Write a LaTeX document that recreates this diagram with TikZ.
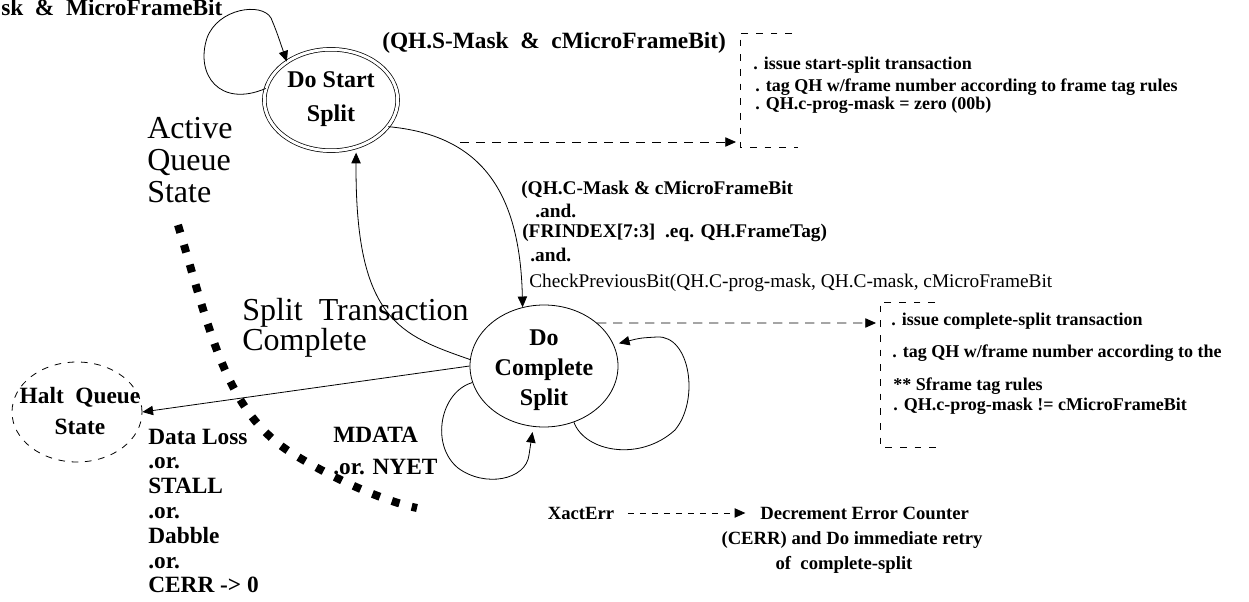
\documentclass[tikz,border=0pt]{standalone}
\usepackage{fontspec}
\setmainfont{Liberation Serif}
\usetikzlibrary{arrows.meta,shapes.geometric}
\begin{document}
\begin{tikzpicture}[x=0.75pt,y=-0.75pt,
  arr/.style={-{Triangle[length=8pt,width=7pt]}, line width=0.6pt},
  darr/.style={arr, dash pattern=on 7pt off 5pt},
  xarr/.style={arr, dash pattern=on 4.5pt off 4.5pt},
  boxline/.style={line width=0.65pt, dash pattern=on 5pt off 6pt},
  nm/.style={font=\bfseries\fontsize{18}{23}\selectfont, align=center, inner sep=0pt},
  lb/.style={font=\bfseries\fontsize{17.5}{19}\selectfont, anchor=west, inner sep=0pt},
  cd/.style={font=\bfseries\fontsize{14.5}{17}\selectfont, anchor=west, inner sep=0pt},
  cdr/.style={font=\fontsize{14.5}{17}\selectfont, anchor=west, inner sep=0pt},
  bx/.style={font=\bfseries\fontsize{13.5}{16}\selectfont, anchor=west, inner sep=0pt},
  bigtxt/.style={font=\fontsize{24}{24}\selectfont, anchor=west, inner sep=0pt, align=left},
  dec/.style={font=\bfseries\fontsize{14}{17}\selectfont, inner sep=0pt},
]
\useasboundingbox (0,0) rectangle (1249,602);

% states
\node[ellipse, draw, double, double distance=2.2pt, line width=0.55pt,
      minimum width=100pt, minimum height=76pt, inner sep=0pt] (start) at (331,100) {};
\node[nm, font=\bfseries\fontsize{18}{25}\selectfont] (starttext) at (331,99) {Do Start\\Split};

\node[ellipse, draw, line width=0.6pt, minimum width=111pt, minimum height=91.5pt,
      inner sep=0pt] (complete) at (544,366) {};
\node[nm, font=\bfseries\fontsize{18}{22.5}\selectfont] (completetext) at (544,370) {Do\\Complete\\Split};

\node[ellipse, draw, line width=0.6pt, dash pattern=on 5pt off 5pt,
      minimum width=97.5pt, minimum height=75pt, inner sep=0pt] (halt) at (77,412) {};
\node[nm, font=\bfseries\fontsize{17.5}{23}\selectfont] (halttext) at (80,411) {Halt\ \ Queue\\State};

% labels
\node[lb, anchor=base west] (toplab) at (1,16) {sk\ \ \&\ \ MicroFrameBit};
\node[lb] (slab) at (382,43) {(QH.S-Mask\ \ \&\ \ cMicroFrameBit)};

\node[cd] (c1) at (521,190) {(QH.C-Mask \& cMicroFrameBit};
\node[cd] (c2) at (535,211) {.and.};
\node[cd] (c3) at (522,233) {(FRINDEX[7:3]\ \ .eq. QH.FrameTag)};
\node[cd] (c4) at (530,255) {.and.};
\node[cdr] (c5) at (529,283) {CheckPreviousBit(QH.C-prog-mask, QH.C-mask, cMicroFrameBit};

\node[bigtxt] (active) at (147,160) {Active\\Queue\\State};
\node[bigtxt, font=\fontsize{24}{22.5}\selectfont] (splitc) at (242,328) {Split\ \ Transaction\\Complete};

\node[lb, align=left, font=\bfseries\fontsize{17.5}{18.6}\selectfont] (loss) at (148,511)
  {Data Loss\\.or.\\STALL\\.or.\\Dabble\\.or.\\CERR -> 0};
\node[lb, align=left, font=\bfseries\fontsize{17.5}{24}\selectfont] (mdata) at (333,451)
  {MDATA\\.or. NYET};

% box 1
\draw[boxline] (792,33) -- (740,33) -- (740,147) -- (798,147);
\node[bx] (b1a) at (753,65) {. issue start-split transaction};
\node[bx] (b1b) at (755,87) {. tag QH w/frame number according to frame tag rules};
\node[bx] (b1c) at (755,105) {. QH.c-prog-mask = zero (00b)};

% box 2
\draw[boxline] (935,302) -- (880,302) -- (880,447) -- (942,447);
\node[bx] (b2a) at (891,321) {. issue complete-split transaction};
\node[bx] (b2b) at (892,353) {. tag QH w/frame number according to the};
\node[bx] (b2c) at (893,386) {** Sframe tag rules};
\node[bx] (b2d) at (893,406) {. QH.c-prog-mask != cMicroFrameBit};

% error
\node[dec] (xact) at (581,513) {XactErr};
\node[dec, anchor=west] (dec1) at (760,513) {Decrement Error Counter};
\node[dec] (dec2) at (852,540) {(CERR) and Do immediate retry};
\node[dec] (dec3) at (844,565) {of\ \ complete-split};

\coordinate (d1s) at (460,142);
\coordinate (b1in) at (736,142);
\coordinate (b2in) at (876,323);

% connectors
\draw[arr] (start.170) .. controls (220,108) and (195,75) .. (207,38)
  .. controls (218,8) and (262,2) .. (271,18) .. controls (276,30) .. (start.139);
\draw[darr] (d1s) -- (b1in);
\draw[arr] (start.-25) .. controls (480,135) and (520,190) .. (complete.110);
\draw[arr, shorten >=4pt] (complete.175) .. controls (400,335) and (355,320) .. (start.-62);
\draw[arr] (complete.west) -- (halt.east);
\draw[arr, shorten >=4pt] (complete.-62) .. controls (585,452) and (640,462) .. (675,430)
  .. controls (700,400) and (690,335) .. (657,337) .. controls (640,338) .. (complete.17);
\draw[arr, shorten >=4pt] (complete.193) .. controls (440,392) and (430,445) .. (458,468)
  .. controls (485,488) and (526,480) .. (529,455) -- (complete.-100);
\draw[darr] (complete.39) -- (b2in);
\draw[xarr, shorten <=10pt, shorten >=11pt] (xact.east) -- (dec1.west);

% thick dotted boundary
\draw[line width=6pt, dash pattern=on 6pt off 9.5pt] (178,225)
  .. controls (210,330) and (225,410) .. (290,452)
  .. controls (330,477) and (380,500) .. (417,508);
\end{tikzpicture}
\end{document}
